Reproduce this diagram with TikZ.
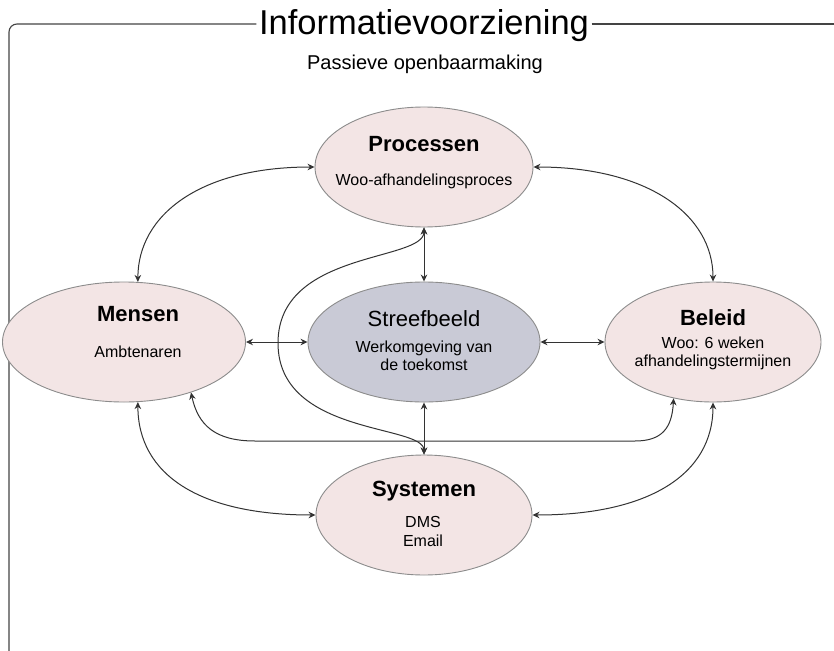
\documentclass[tikz,border=0pt]{standalone}
\usepackage{fontspec}
\setmainfont{Liberation Sans}
\usetikzlibrary{shapes.geometric,arrows.meta}

\definecolor{pinkfill}{HTML}{F3E5E5}
\definecolor{goalfill}{HTML}{C9CAD6}
\definecolor{rimgray}{HTML}{8C8C8C}
\definecolor{linkgray}{HTML}{333333}
\definecolor{framegray}{HTML}{444444}

\begin{document}
\begin{tikzpicture}[x=1pt,y=-1pt,
  area/.style={ellipse, draw=rimgray, line width=0.9pt, fill=pinkfill, inner sep=0pt},
  head/.style={font=\fontsize{22}{24}\selectfont\bfseries, anchor=base, inner sep=0pt},
  goalhead/.style={font=\fontsize{22}{24}\selectfont, anchor=base, inner sep=0pt},
  sub/.style={font=\fontsize{16}{18}\selectfont, anchor=base, inner sep=0pt},
  link/.style={draw=linkgray, line width=1pt,
    {Stealth[length=7pt,width=6.5pt]}-{Stealth[length=7pt,width=6.5pt]}},
  frame/.style={draw=framegray, line width=1.1pt},
]
\useasboundingbox (0,0) rectangle (834,650);
\fill[white] (0,0) rectangle (834,650);

% outer frame with its heading
\node[font=\fontsize{34.5}{40}\selectfont, anchor=base, inner sep=2.5pt] (title) at (424,35) {Informatievoorziening};
\coordinate (ftl) at (9,24);
\coordinate (ftr) at (840,24);
\coordinate (fbl) at (9,670);
\draw[frame, rounded corners=8pt] (title.west |- ftl) -- (ftl) -- (fbl);
\draw[frame] (title.east |- ftl) -- (ftr);
\node[font=\fontsize{20}{22}\selectfont, anchor=base, inner sep=0pt] (mode) at (425,70) {Passieve openbaarmaking};

% the five areas
\node[area, minimum width=218pt, minimum height=120pt] (proc) at (424,167) {};
\node[area, minimum width=243pt, minimum height=120pt] (mens) at (124,342) {};
\node[area, fill=goalfill, minimum width=232pt, minimum height=120pt] (goal) at (424,342) {};
\node[area, minimum width=216pt, minimum height=120pt] (bel) at (713,342) {};
\node[area, minimum width=216pt, minimum height=120pt] (sys) at (424,515) {};

% texts inside the areas
\node[head] (proc-t) at (424,151) {Processen};
\node[sub]  (proc-s) at (424,185) {Woo-afhandelingsproces};
\node[head] (mens-t) at (138,321) {Mensen};
\node[sub]  (mens-s) at (138,357) {Ambtenaren};
\node[goalhead] (goal-t) at (424,326) {Streefbeeld};
\node[sub]  (goal-s1) at (424,352) {Werkomgeving van};
\node[sub]  (goal-s2) at (424,370) {de toekomst};
\node[head] (bel-t) at (713,325) {Beleid};
\node[sub]  (bel-s1) at (713,348) {Woo: 6 weken};
\node[sub]  (bel-s2) at (713,366) {afhandelingstermijnen};
\node[head] (sys-t) at (424,496) {Systemen};
\node[sub]  (sys-s1) at (423,527) {DMS};
\node[sub]  (sys-s2) at (423,546) {Email};

% straight links around the goal
\draw[link] (proc.south) -- (goal.north);
\draw[link] (mens.east) -- (goal.west);
\draw[link] (goal.east) -- (bel.west);
\draw[link] (goal.south) -- (sys.north);

% curved links along the outside
\draw[link] (proc.west) .. controls (200,167) and (138,215) .. (mens.77);
\draw[link] (proc.east) .. controls (648,167) and (713,215) .. (bel.north);
\draw[link] (mens.-77) .. controls (138,475) and (200,515) .. (sys.west);
\draw[link] (bel.south) .. controls (713,475) and (648,515) .. (sys.east);

% long link from Mensen to Beleid below the goal
\coordinate (lowl) at (255,441);
\coordinate (lowr) at (635,441);
\draw[link] (mens.-37) .. controls (198,425) and (215,441) .. (lowl) -- (lowr)
  .. controls (662,441) and (672,428) .. (bel.-125);

% loop from Processen to Systemen around the left of the goal
\coordinate (loopw) at (278,343);
\draw[link] (proc.south) .. controls (424,262) and (278,250) .. (loopw)
  .. controls (278,436) and (424,424) .. (sys.north);
\end{tikzpicture}
\end{document}
